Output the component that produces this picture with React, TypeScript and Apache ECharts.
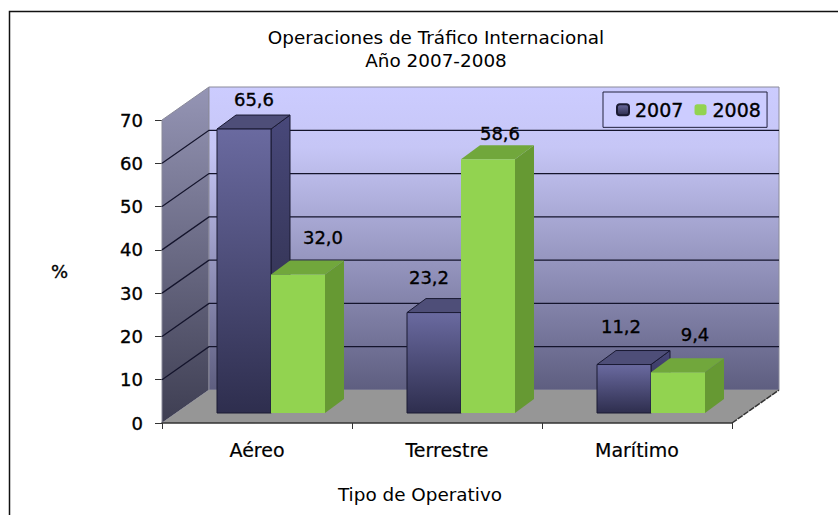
import React, { useEffect, useRef } from "react";
import * as echarts from "echarts";

const categories = ["Aéreo", "Terrestre", "Marítimo"];
const values2007 = [65.6, 23.2, 11.2];
const values2008 = [32.0, 58.6, 9.4];
const yTicks = [0, 10, 20, 30, 40, 50, 60, 70];

// Label nudges relative to bar's front-top centre (layout only)
const labelNudge2007 = [[10, -30], [-5, -35], [-3, -38]];
const labelNudge2008 = [[25, -37], [12, -26], [17, -38]];

const FONT = "DejaVu Sans";
const DEPTH_X = 47;
const DEPTH_Y = -33;
const BAR_SHIFT_X = 14;
const BAR_SHIFT_Y = -10;
const BAR_DX = 19;
const BAR_DY = -14;
const BAR_W = 54;
const HEAVY = { textBorderColor: "#000", textBorderWidth: 0.35 };
const MEDIUM = { textBorderColor: "#000", textBorderWidth: 0.2 };

const vg = (a: string, b: string) => new echarts.graphic.LinearGradient(0, 0, 0, 1, [
  { offset: 0, color: a },
  { offset: 1, color: b },
]);

const xLeft = (api: any) => api.coord([0, 0])[0] - api.size([1, 0])[0] / 2;
const xRight = (api: any) => api.coord([categories.length - 1, 0])[0] + api.size([1, 0])[0] / 2;

function wallsItem(_p: any, api: any) {
  const L = xLeft(api);
  const R = xRight(api);
  const y0 = api.coord([0, 0])[1];
  const y7 = api.coord([0, 70])[1];
  const bl = [L, y0];
  const br = [R, y0];
  const tl = [L, y7];
  const d = (p: number[]) => [p[0] + DEPTH_X, p[1] + DEPTH_Y];
  const poly = (points: number[][], style: any) => ({ type: "polygon", shape: { points }, style });
  return {
    type: "group",
    children: [
      poly([tl, d(tl), d(bl), bl], {
        fill: vg("#9595B5", "#3E3E52"),
        stroke: "#8a8a9a",
        lineWidth: 1,
      }),
      poly([d(tl), [R + DEPTH_X, y7 + DEPTH_Y], d(br), d(bl)], {
        fill: new echarts.graphic.LinearGradient(0, 0, 0, 1, [
          { offset: 0, color: "#CCCCFF" },
          { offset: 0.2, color: "#C6C6F6" },
          { offset: 1, color: "#5E5E80" },
        ]),
        stroke: "#8a8a9a",
        lineWidth: 1,
      }),
      poly([bl, br, d(br), d(bl)], { fill: "#969696" }),
    ],
  };
}

function gridItem(_p: any, api: any) {
  const v = api.value(0);
  const L = xLeft(api);
  const R = xRight(api);
  const y = api.coord([0, v])[1];
  const a = [L, y];
  const b = [L + DEPTH_X, y + DEPTH_Y];
  const c = [R + DEPTH_X, y + DEPTH_Y];
  if (v === 0) {
    return {
      type: "line",
      shape: { x1: R, y1: y, x2: R + DEPTH_X, y2: y + DEPTH_Y },
      style: { stroke: "#333", lineWidth: 1.5, lineDash: [6, 1] },
    };
  }
  if (v === 70) {
    return { type: "group", children: [] };
  }
  return {
    type: "polyline",
    shape: { points: [a, b, c] },
    style: { stroke: "#14142C", lineWidth: 1.3, fill: "none" },
  };
}

const makeBar = (front: any, side: any, top: any, edge: string, off: number, nudges: number[][]) =>
  (_p: any, api: any) => {
    const i = api.value(0);
    const v = api.value(1);
    const base = api.coord([i, 0]);
    const head = api.coord([i, v]);
    const x0 = base[0] + BAR_SHIFT_X + off * BAR_W;
    const x1 = x0 + BAR_W;
    const y0 = base[1] + BAR_SHIFT_Y;
    const y1 = head[1] + BAR_SHIFT_Y;
    const poly = (points: number[][], fill: any) => ({
      type: "polygon",
      shape: { points },
      style: { fill, stroke: edge, lineWidth: 1 },
    });
    const n = nudges[i];
    return {
      type: "group",
      children: [
        poly([[x1, y1], [x1 + BAR_DX, y1 + BAR_DY], [x1 + BAR_DX, y0 + BAR_DY], [x1, y0]], side),
        poly([[x0, y1], [x1, y1], [x1 + BAR_DX, y1 + BAR_DY], [x0 + BAR_DX, y1 + BAR_DY]], top),
        poly([[x0, y1], [x1, y1], [x1, y0], [x0, y0]], front),
        {
          type: "text",
          x: (x0 + x1) / 2 + n[0],
          y: y1 + n[1],
          style: {
            text: v.toFixed(1).replace(".", ","),
            font: `18px '${FONT}'`,
            fill: "#000",
            stroke: "#000",
            lineWidth: 0.35,
            align: "center",
            verticalAlign: "middle",
          },
        },
      ],
    };
  };

export default function App() {
  const ref = useRef<HTMLDivElement>(null);
  useEffect(() => {
    document.body.style.margin = "0";
    const chart = echarts.init(ref.current!, undefined, { renderer: "svg" });
    chart.setOption({
      animation: false,
      backgroundColor: "#fff",
      textStyle: { fontFamily: FONT },
      title: {
        text: "Operaciones de Tráfico Internacional\nAño 2007-2008",
        left: 431,
        top: 21,
        textAlign: "center",
        textStyle: { fontFamily: FONT, fontSize: 18.4, fontWeight: "normal", color: "#000", lineHeight: 23 },
      },
      legend: {
        data: ["2007", "2008"],
        left: 603,
        top: 92,
        padding: [8, 6, 8, 13],
        itemWidth: 12,
        itemHeight: 11,
        itemGap: 11,
        backgroundColor: "#CCCCFF",
        borderColor: "#22223E",
        borderWidth: 1,
        selectedMode: false,
        textStyle: { fontFamily: FONT, fontSize: 19, color: "#000", ...HEAVY, padding: [0, 0, 0, 1] },
      },
      grid: { left: 162, top: 120, width: 570, height: 303, containLabel: false },
      xAxis: {
        type: "category",
        data: categories,
        name: "Tipo de Operativo",
        nameLocation: "middle",
        nameGap: 62,
        nameTextStyle: { fontFamily: FONT, fontSize: 18.4, color: "#000", padding: [0, 54, 0, 0] },
        axisLine: { show: true, lineStyle: { color: "#333", width: 1.5 } },
        axisTick: { show: true, length: 6, lineStyle: { color: "#333" } },
        axisLabel: { fontFamily: FONT, fontSize: 19, color: "#000", margin: 17, ...MEDIUM },
        splitLine: { show: false },
        z: 5,
      },
      yAxis: {
        type: "value",
        min: 0,
        max: 70,
        interval: 10,
        name: "%",
        nameLocation: "middle",
        nameRotate: 0,
        nameGap: 94,
        nameTextStyle: { fontFamily: FONT, fontSize: 18, color: "#000", ...HEAVY, padding: [8, 0, 0, 0] },
        axisLine: { show: false },
        axisTick: { show: true, length: 7, lineStyle: { color: "#333" } },
        axisLabel: { fontFamily: FONT, fontSize: 18, color: "#000", margin: 19, ...HEAVY },
        splitLine: { show: false },
      },
      graphic: [
        {
          type: "rect",
          shape: { x: 9.5, y: 11.5, width: 840, height: 520 },
          style: { fill: "none", stroke: "#111", lineWidth: 1.5 },
          silent: true,
        },
      ],
      series: [
        { type: "custom", name: "walls", silent: true, clip: false, data: [[0]], renderItem: wallsItem, z: 1 },
        { type: "custom", name: "grid", silent: true, clip: false, data: yTicks.map((v) => [v]), renderItem: gridItem, z: 2 },
        {
          type: "custom",
          name: "2007",
          clip: false,
          z: 3,
          itemStyle: { color: vg("#6A6AA0", "#2E2E4E"), borderColor: "#1A1A33", borderWidth: 1 },
          data: values2007.map((v, i) => [i, v]),
          renderItem: makeBar(vg("#6A6AA0", "#2E2E4E"), vg("#48487A", "#28283E"), "#4E4E78", "#1A1A33", -1, labelNudge2007),
        },
        {
          type: "custom",
          name: "2008",
          clip: false,
          z: 3,
          itemStyle: { color: "#92D350" },
          data: values2008.map((v, i) => [i, v]),
          renderItem: makeBar("#92D350", "#669933", "#71A73C", "transparent", 0, labelNudge2008),
        },
      ],
    });
    return () => chart.dispose();
  }, []);
  return <div ref={ref} style={{ position: "fixed", left: 0, top: 0, width: 838, height: 515 }} />;
}
